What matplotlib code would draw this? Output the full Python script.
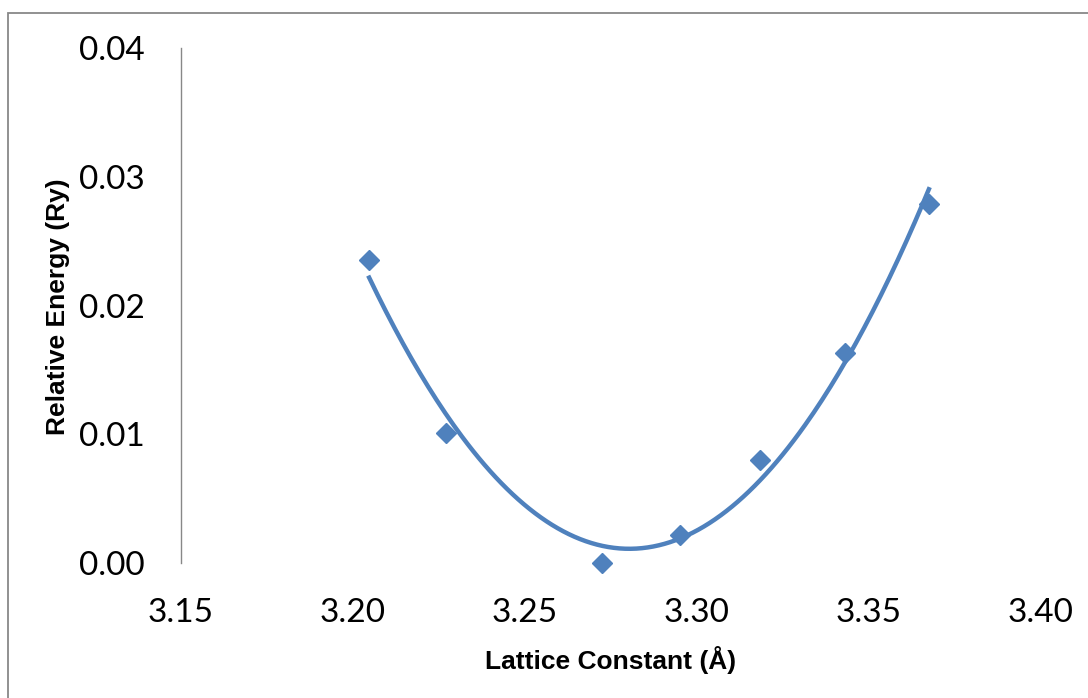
import numpy as np
import matplotlib.pyplot as plt
from matplotlib.patches import Rectangle

# lattice constant (A) vs relative energy (Ry)
lattice = [3.2047, 3.2270, 3.2724, 3.2951, 3.3183, 3.3430, 3.3674]
energy = [0.0235, 0.0101, 0.0000, 0.0022, 0.0080, 0.0163, 0.0279]
xticks = [3.15, 3.20, 3.25, 3.30, 3.35, 3.40]
yticks = [0.00, 0.01, 0.02, 0.03, 0.04]

blue = '#4F81BD'

fig = plt.figure(figsize=(10.88, 6.98), dpi=100)
ax = fig.add_axes([181/1088, 1-563/698, 860/1088, 515/698])

#Excel style 2nd order trendline over the data range
coef = np.polyfit(lattice, energy, 2)
xs = np.linspace(min(lattice), max(lattice), 200)
ax.plot(xs, np.polyval(coef, xs), color=blue, lw=3.2, zorder=2)
ax.plot(lattice, energy, 'D', color=blue, ms=10, mec=blue, zorder=3, clip_on=False)

ax.set_xlim(3.15, 3.40)
ax.set_ylim(0, 0.04)
ax.set_xticks(xticks)
ax.set_yticks(yticks)
ax.set_xticklabels(['%.2f' % v for v in xticks], fontsize=24, family='Lato')
ax.set_yticklabels(['%.2f' % v for v in yticks], fontsize=24, family='Lato')
ax.tick_params(length=0)
ax.tick_params(axis='x', pad=25)
ax.tick_params(axis='y', pad=26)

for s in ['top', 'right', 'bottom']:
    ax.spines[s].set_visible(False)
ax.spines['left'].set_color('#888888')
ax.spines['left'].set_linewidth(1)

fig.text(611/1088, 1-660/698, 'Lattice Constant (Å)', ha='center', va='center',
         fontsize=19, fontweight='bold', family='Liberation Sans')
fig.text(58/1088, 1-307/698, 'Relative Energy (Ry)', ha='center', va='center',
         rotation=90, fontsize=19, fontweight='bold', family='Liberation Sans')

#chart border
fig.patches.append(Rectangle((8/1088, -0.01), 1.05, 1-13/698+0.01, transform=fig.transFigure,
                             fill=False, ec='#888888', lw=1.3))

fig.savefig('out.png', dpi=100)
